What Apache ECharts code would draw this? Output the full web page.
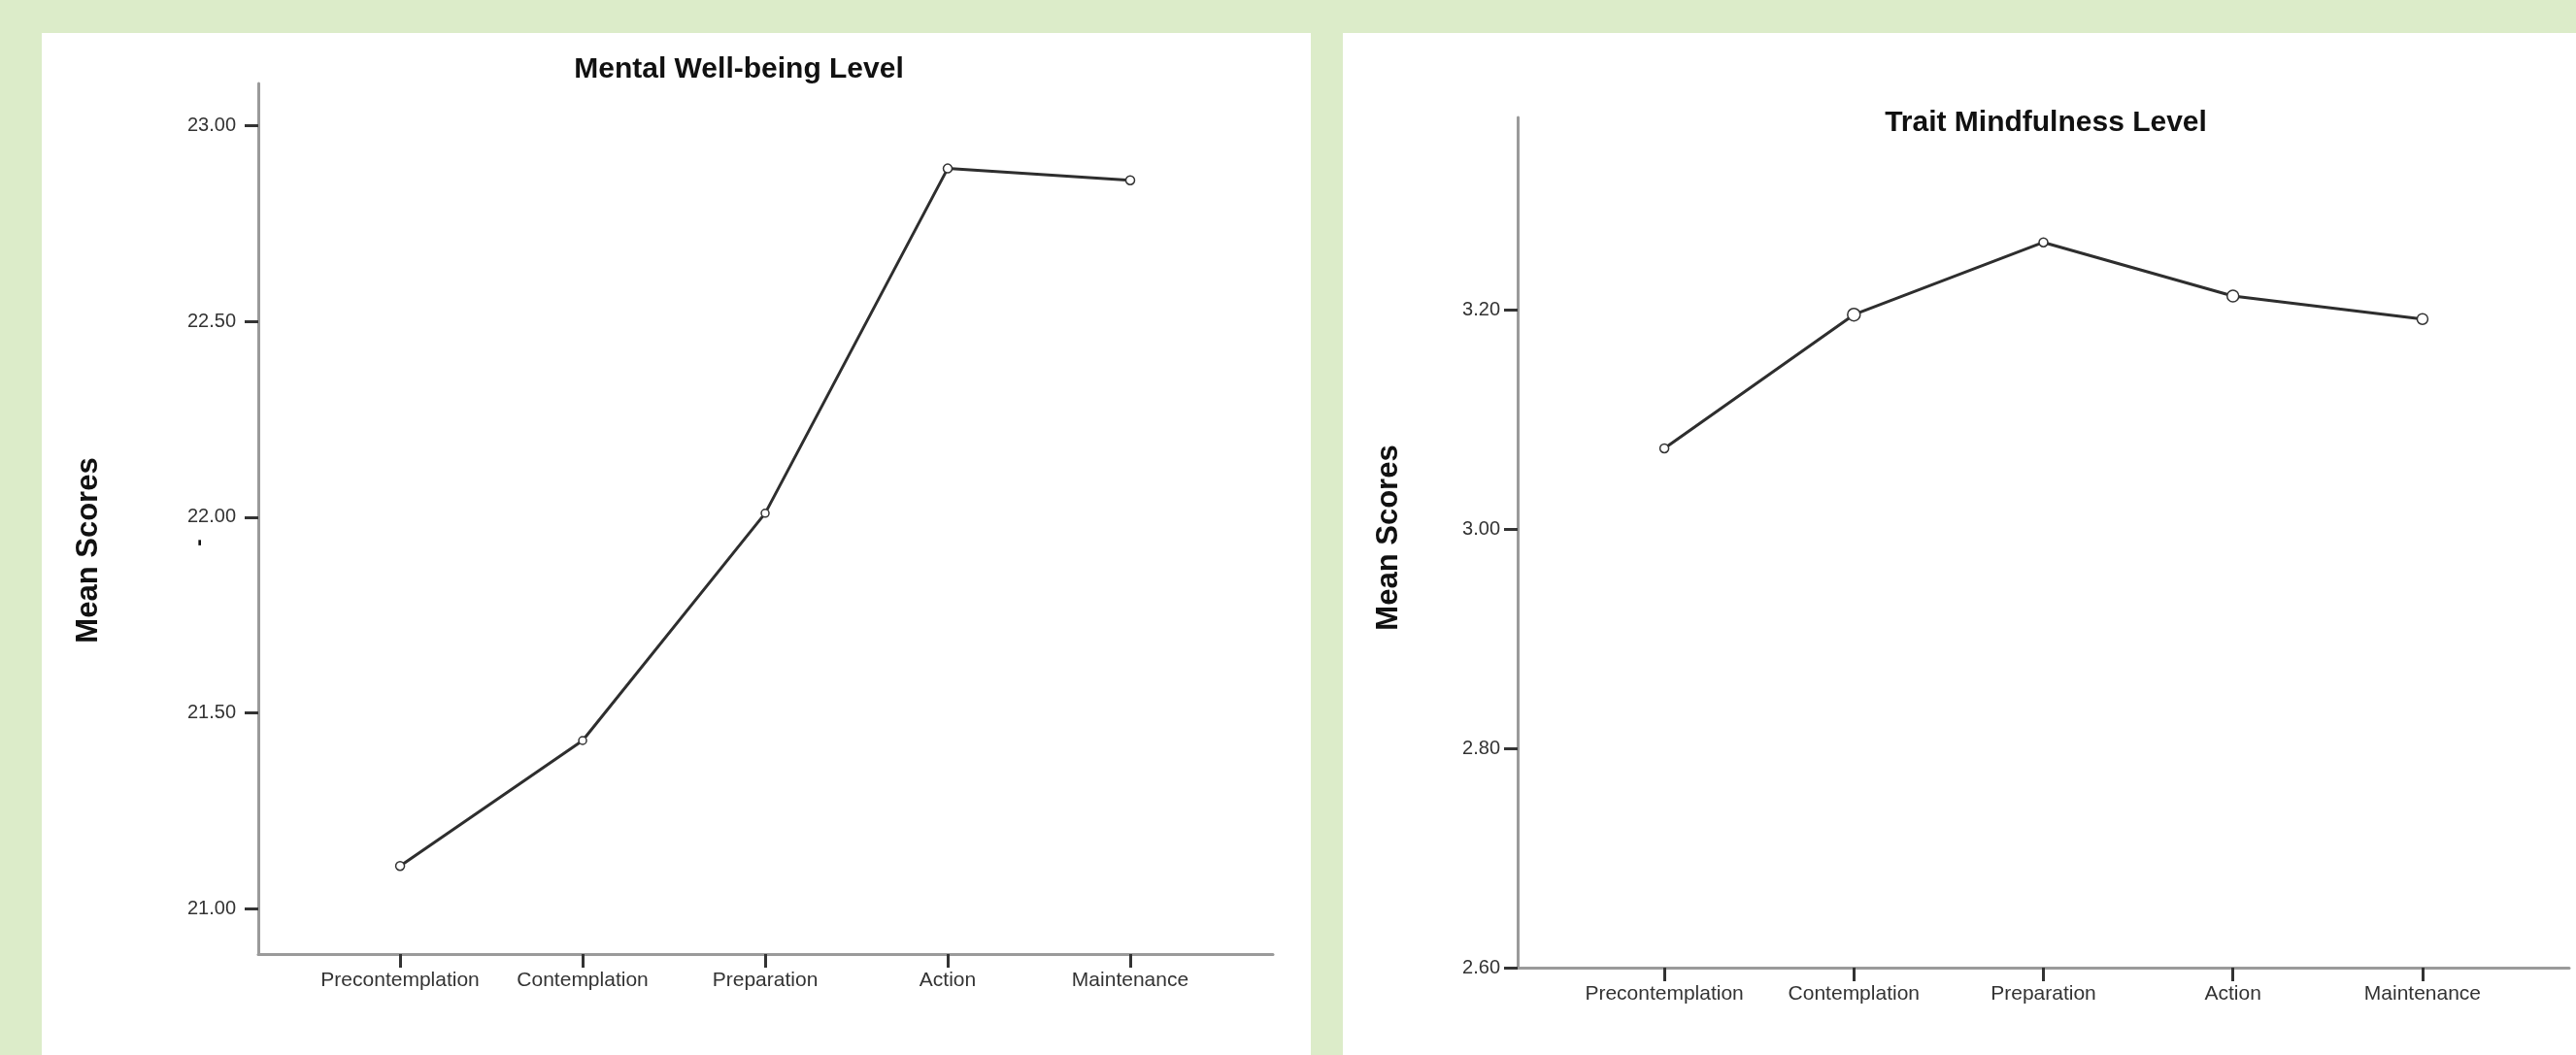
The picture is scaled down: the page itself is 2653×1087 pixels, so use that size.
<!DOCTYPE html>
<html>
<head>
<meta charset="utf-8">
<style>
  html, body { margin: 0; padding: 0; background: #dcecc9; }
  #chart { width: 2653px; height: 1087px; }
</style>
<script src="https://cdn.jsdelivr.net/npm/echarts@6/dist/echarts.min.js"></script>
</head>
<body>
<div id="chart"></div>
<script>
const stages = ['Precontemplation', 'Contemplation', 'Preparation', 'Action', 'Maintenance'];
const wellbeing = [21.11, 21.43, 22.01, 22.89, 22.86];
const mindfulness = [3.074, 3.196, 3.262, 3.213, 3.192];
const wellbeingTicks = [21, 21.5, 22, 22.5, 23];
const mindfulnessTicks = [2.6, 2.8, 3.0, 3.2];
const stageTicks = [0, 1, 2, 3, 4];

const chart = echarts.init(document.getElementById('chart'));

const font = 'Liberation Sans, Arial, sans-serif';

function xAxisFor(gridIndex, min, max) {
    return {
        gridIndex: gridIndex,
        type: 'value',
        min: min,
        max: max,
        splitLine: { show: false },
        axisLine: { show: true, onZero: false, lineStyle: { color: '#9a9a9a', width: 3 } },
        axisTick: { show: true, customValues: stageTicks, length: 14, lineStyle: { color: '#333', width: 3 } },
        axisLabel: {
            customValues: stageTicks,
            margin: 17,
            color: '#333',
            fontFamily: font,
            fontSize: 21,
            formatter: v => stages[Math.round(v)]
        }
    };
}

function yAxisFor(gridIndex, min, max, ticks, margin) {
    return {
        gridIndex: gridIndex,
        type: 'value',
        min: min,
        max: max,
        splitLine: { show: false },
        axisLine: { show: true, onZero: false, lineStyle: { color: '#9a9a9a', width: 3 } },
        axisTick: { show: true, customValues: ticks, length: 14, lineStyle: { color: '#333', width: 3 } },
        axisLabel: {
            customValues: ticks,
            margin: margin,
            color: '#333',
            fontFamily: font,
            fontSize: 20,
            formatter: v => v.toFixed(2)
        }
    };
}

function lineSeries(idx, values, sizes) {
    return {
        type: 'line',
        xAxisIndex: idx,
        yAxisIndex: idx,
        data: values.map((v, i) => ({ value: [i, v], symbolSize: sizes[i] })),
        symbol: 'circle',
        lineStyle: { color: '#2e2e2e', width: 3 },
        itemStyle: { color: '#ffffff', borderColor: '#333', borderWidth: 1.5 },
        animation: false
    };
}

const leftSizes = [9, 8, 8, 9, 9];
const rightSizes = [9, 13, 9, 12, 11];

chart.setOption({
    backgroundColor: '#dcecc9',
    title: [
        {
            text: 'Mental Well-being Level',
            left: 761, top: 57, textAlign: 'center', padding: 0,
            textStyle: { fontFamily: font, fontSize: 30, fontWeight: 'bold', color: '#111' }
        },
        {
            text: 'Trait Mindfulness Level',
            left: 2107, top: 112, textAlign: 'center', padding: 0,
            textStyle: { fontFamily: font, fontSize: 30, fontWeight: 'bold', color: '#111' }
        }
    ],
    graphic: [
        { type: 'rect', z: -10, shape: { x: 43, y: 34, width: 1307, height: 1053 }, style: { fill: '#ffffff' } },
        { type: 'rect', z: -10, shape: { x: 1383, y: 34, width: 1270, height: 1053 }, style: { fill: '#ffffff' } },
        {
            type: 'text', x: 91, y: 567, rotation: Math.PI / 2,
            style: { text: 'Mean Scores', font: 'bold 31px ' + font, fill: '#111', align: 'center', verticalAlign: 'middle' }
        },
        {
            type: 'text', x: 205, y: 559, rotation: Math.PI / 2,
            style: { text: '-', font: 'bold 22px ' + font, fill: '#111', align: 'center', verticalAlign: 'middle' }
        },
        {
            type: 'text', x: 1430, y: 554, rotation: Math.PI / 2,
            style: { text: 'Mean Scores', font: 'bold 31px ' + font, fill: '#111', align: 'center', verticalAlign: 'middle' }
        }
    ],
    grid: [
        { left: 266, top: 86, width: 1045, height: 897 },
        { left: 1563, top: 121, width: 1083, height: 876 }
    ],
    xAxis: [
        xAxisFor(0, -0.777, 4.782),
        xAxisFor(1, -0.774, 4.774)
    ],
    yAxis: [
        yAxisFor(0, 20.885, 23.107, wellbeingTicks, 23),
        yAxisFor(1, 2.6, 3.376, mindfulnessTicks, 18)
    ],
    series: [
        lineSeries(0, wellbeing, leftSizes),
        lineSeries(1, mindfulness, rightSizes)
    ]
});
</script>
</body>
</html>
